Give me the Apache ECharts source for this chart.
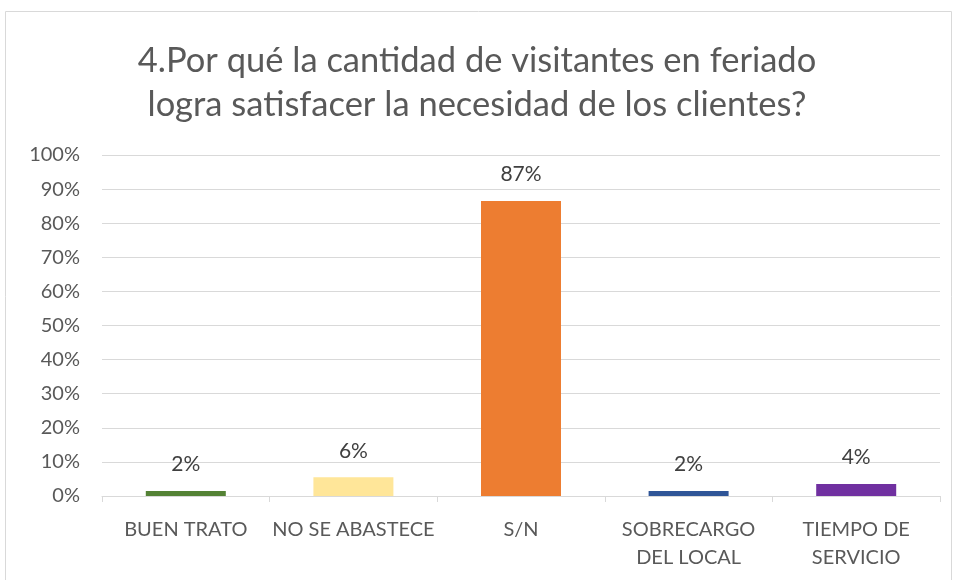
<!DOCTYPE html>
<html lang="es">
<head>
  <meta charset="UTF-8">
  <title>Visitantes en feriado</title>
  <style>
    html, body { margin: 0; padding: 0; background: #fff; }
    #main { width: 954px; height: 580px; }
  </style>
</head>
<body>
  <div id="main"></div>
  <script src="https://cdn.jsdelivr.net/npm/echarts@6/dist/echarts.min.js"></script>
  <script>
    // datos (porcentaje)
    var categorias = ['BUEN TRATO', 'NO SE ABASTECE', 'S/N', 'SOBRECARGO\nDEL LOCAL', 'TIEMPO DE\nSERVICIO'];
    var valores = [1.5, 5.5, 86.5, 1.5, 3.5];
    var colores = ['#548235', '#FFE699', '#ED7D31', '#2F5597', '#7030A0'];
    var titulo = '4.Por qué la cantidad de visitantes en feriado\nlogra satisfacer la necesidad de los clientes?';

    var fuente = 'Lato, "Open Sans", sans-serif';
    var myChart = echarts.init(document.getElementById('main'));

    var datos = [];
    for (var i = 0; i < valores.length; i++) {
      datos.push({ value: valores[i], itemStyle: { color: colores[i] } });
    }

    var option = {
      animation: false,
      title: {
        text: titulo,
        left: 'center',
        top: 34,
        textStyle: {
          fontFamily: fuente,
          fontSize: 34.5,
          fontWeight: 'normal',
          color: '#595959',
          lineHeight: 44
        }
      },
      graphic: [{
        type: 'rect',
        shape: { x: 5.5, y: 11.5, width: 946, height: 620 },
        style: { fill: 'none', stroke: '#d9d9d9', lineWidth: 1 }
      }],
      grid: { left: 102, right: 14, top: 155, bottom: 84 },
      xAxis: {
        type: 'category',
        data: categorias,
        axisLine: { lineStyle: { color: '#d9d9d9', width: 1 } },
        axisTick: { show: true, length: 6, lineStyle: { color: '#d9d9d9' } },
        axisLabel: {
          fontFamily: fuente,
          fontSize: 20,
          color: '#595959',
          margin: 20,
          lineHeight: 28,
          interval: 0
        }
      },
      yAxis: {
        type: 'value',
        min: 0,
        max: 100,
        interval: 10,
        axisLine: { show: false },
        axisTick: { show: false },
        splitLine: { lineStyle: { color: '#d9d9d9', width: 1 } },
        axisLabel: {
          fontFamily: fuente,
          fontSize: 20,
          color: '#595959',
          margin: 22,
          formatter: '{value}%'
        }
      },
      series: [{
        type: 'bar',
        data: datos,
        barWidth: 80,
        label: {
          show: true,
          position: 'top',
          distance: 16,
          fontFamily: fuente,
          fontSize: 21,
          color: '#404040',
          formatter: function (p) { return Math.round(p.value) + '%'; }
        }
      }]
    };
    myChart.setOption(option);
  </script>
</body>
</html>
